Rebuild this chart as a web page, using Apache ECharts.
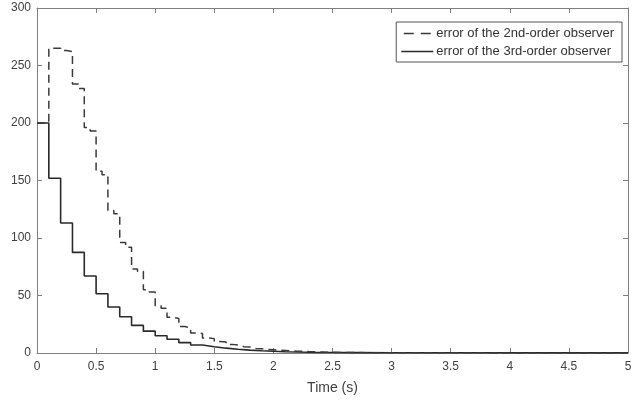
<!DOCTYPE html>
<html>
<head>
<meta charset="utf-8">
<script src="https://cdn.jsdelivr.net/npm/echarts@6/dist/echarts.min.js"></script>
<style>html,body{margin:0;padding:0;background:#fff;}#c{width:638px;height:403px;}</style>
</head>
<body>
<div id="c"></div>
<script>
// Time grid for the 2nd-order observer error (0.05 s resolution)
var time2 = [0,0.05,0.1,0.15,0.2,0.25,0.3,0.35,0.4,0.45,0.5,0.55,0.6,0.65,0.7,0.75,0.8,0.85,0.9,0.95,
  1.0,1.05,1.1,1.15,1.2,1.25,1.3,1.35,1.4,1.45,1.5,1.55,1.6,1.65,1.7,1.75,1.8,1.85,1.9,1.95,
  2.0,2.1,2.2,2.3,2.4,2.5,2.6,2.8,3.0,5.0];
var err2 = [200,200,265,265,263,262,234,230,196,193,158,155,124,121,96,92,73,71,55,53,
  41,39,31,30,23,22,17.5,17,13,12.5,10,9.5,7.5,7,5.5,5.2,4,3.8,3,2.8,
  2.2,1.6,1.2,0.9,0.6,0.4,0.3,0.15,0.05,0];
// Time grid for the 3rd-order observer error (0.1 s resolution)
var time3 = [0,0.1,0.2,0.3,0.4,0.5,0.6,0.7,0.8,0.9,1.0,1.1,1.2,1.3,1.4,1.5,1.6,1.7,1.8,1.9,2.0,2.1,2.2,2.3,2.4,2.5,2.7,3.0,5.0];
var err3 = [200,152,113,87.5,67,51.5,40,31.5,24,19,15,12,9,7,5.5,4.2,3.3,2.5,1.9,1.5,1.1,0.85,0.65,0.5,0.38,0.3,0.2,0.1,0];
var xTicks = ['0','0.5','1','1.5','2','2.5','3','3.5','4','4.5','5'];
var seriesNames = ['error of the 2nd-order observer','error of the 3rd-order observer'];

function pairs(t, v){ return t.map(function(x,i){ return [x, v[i]]; }); }

var chart = echarts.init(document.getElementById('c'), null, {renderer:'canvas'});
var axisColor = '#808080';
var labelColor = '#404040';
var font = 'Liberation Sans, Arial, Helvetica, sans-serif';
function frameAxis(pos, min, max, interval){
  return {type: 'value', min: min, max: max, interval: interval, position: pos,
    axisLine: {show: true, onZero: false, lineStyle: {color: axisColor}},
    axisLabel: {show: false}, splitLine: {show: false},
    axisTick: {show: true, inside: true, length: 5, lineStyle: {color: axisColor}}};
}
var xMain = frameAxis('bottom', 0, 5, 0.5);
xMain.name = 'Time (s)'; xMain.nameLocation = 'middle'; xMain.nameGap = 28;
xMain.nameTextStyle = {fontFamily: font, fontSize: 14, color: labelColor};
xMain.axisLabel = {show: true, fontFamily: font, fontSize: 12, color: labelColor, margin: 8,
  formatter: function(v){ var s = String(Math.round(v*10)/10); return xTicks.indexOf(s) >= 0 ? s : ''; }};
var yMain = frameAxis('left', 0, 300, 50);
yMain.axisLabel = {show: true, fontFamily: font, fontSize: 12, color: labelColor, margin: 6};

chart.setOption({
  backgroundColor: '#fff',
  animation: false,
  grid: {left: 37, right: 10, top: 8, bottom: 50, show: false},
  legend: {
    orient: 'vertical', right: 16, top: 22,
    data: [
      {name: seriesNames[0], icon: 'path://M0,0h10v1.4h-10zM17,0h10v1.4h-10z'},
      {name: seriesNames[1], icon: 'path://M0,0h32v1.4h-32z'}
    ],
    itemWidth: 32, itemHeight: 1.4, itemGap: 5,
    backgroundColor: '#fff', borderColor: '#555', borderWidth: 1, borderRadius: 0,
    padding: [5, 8, 4, 5],
    textStyle: {fontFamily: font, fontSize: 13, color: '#333', padding: [0,0,0,-2]}
  },
  xAxis: [xMain, frameAxis('top', 0, 5, 0.5)],
  yAxis: [yMain, frameAxis('right', 0, 300, 50)],
  series: [{
    name: seriesNames[0], type: 'line', step: 'end', showSymbol: false, symbol: 'none',
    data: pairs(time2, err2),
    lineStyle: {color: '#3a3a3a', width: 1.5, type: [8, 5]},
    itemStyle: {color: '#3a3a3a'}, z: 3
  },{
    name: seriesNames[1], type: 'line', step: 'end', showSymbol: false, symbol: 'none',
    data: pairs(time3, err3),
    lineStyle: {color: '#2a2a2a', width: 1.6},
    itemStyle: {color: '#2a2a2a'}, z: 2
  }]
});
</script>
</body>
</html>
